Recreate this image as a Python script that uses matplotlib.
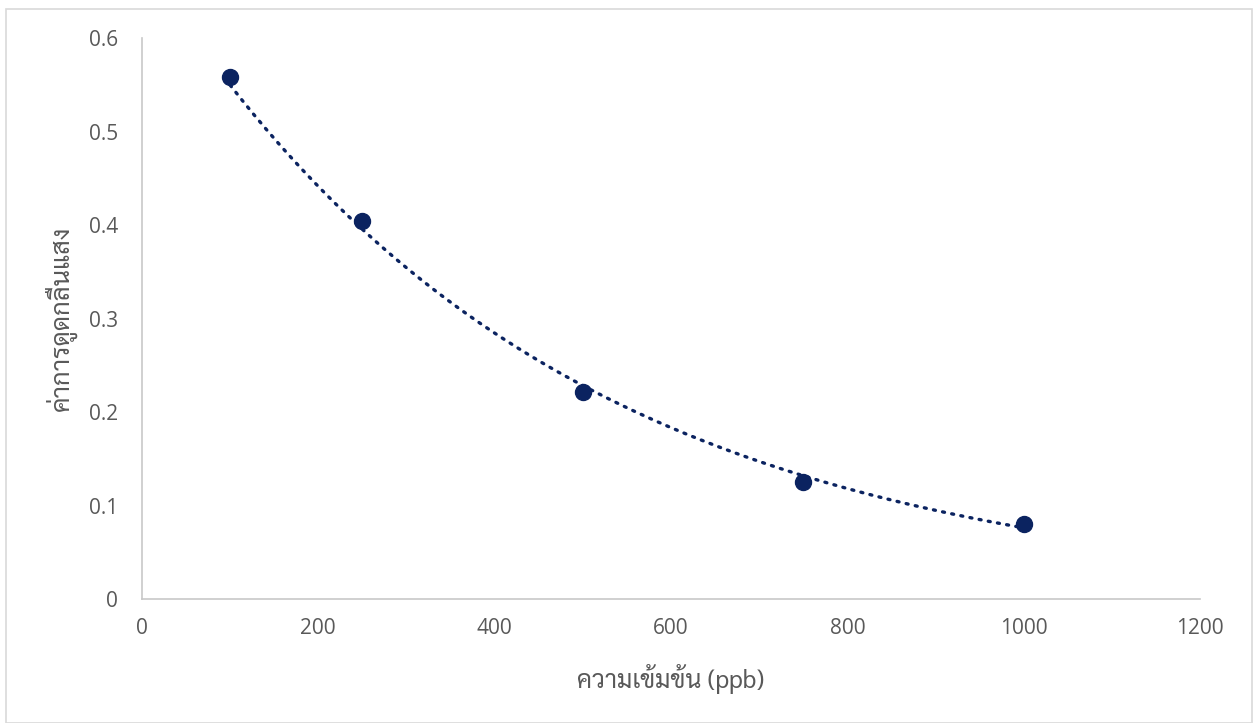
import os
import numpy as np
import matplotlib
matplotlib.use('Agg')
import matplotlib.pyplot as plt
from matplotlib import font_manager
from matplotlib.ft2font import FT2Font
from matplotlib.patches import Rectangle

# data
conc_ppb = [100, 250, 500, 750, 1000]
absorbance = [0.558, 0.404, 0.221, 0.125, 0.080]
x_ticks = [0, 200, 400, 600, 800, 1000, 1200]
y_ticks = [0, 0.1, 0.2, 0.3, 0.4, 0.5, 0.6]
y_tick_labels = ['0', '0.1', '0.2', '0.3', '0.4', '0.5', '0.6']

x_label = 'ความเข้มข้น (ppb)'
y_label = 'ค่าการดูดกลืนแสง'


def find_thai_font():
    base = '/usr/share/fonts/truetype/google-fonts/'
    for name in ['Sarabun-Light.ttf', 'Sarabun-Regular.ttf']:
        if os.path.exists(base + name):
            return base + name
    for path in font_manager.findSystemFonts():
        try:
            if FT2Font(path).get_char_index(ord('ค')) and 'Regular' in path:
                return path
        except Exception:
            continue
    return None


families = ['Open Sans', 'DejaVu Sans']
thai_path = find_thai_font()
if thai_path:
    font_manager.fontManager.addfont(thai_path)
    families = [font_manager.FontProperties(fname=thai_path).get_name()] + families
plt.rcParams['font.family'] = ['Open Sans', 'DejaVu Sans']

# exponential trendline like excel (fit on ln y)
b, ln_a = np.polyfit(conc_ppb, np.log(absorbance), 1)
x_fit = np.linspace(min(conc_ppb), max(conc_ppb), 200)
y_fit = np.exp(ln_a) * np.exp(b * x_fit)

fig = plt.figure(figsize=(12.55, 7.23), dpi=100)
ax = fig.add_axes([0.1131, 0.1715, 0.8431, 0.7759])

navy = '#0b2360'
ax.plot(x_fit, y_fit, linestyle=(0, (0.6, 2.2)), linewidth=2.4,
        color=navy, dash_capstyle='round', zorder=2)
ax.plot(conc_ppb, absorbance, 'o', markersize=11.5, color=navy,
        markeredgecolor=navy, zorder=3)

ax.set_xlim(0, 1200)
ax.set_ylim(0, 0.6)
ax.set_xticks(x_ticks)
ax.set_yticks(y_ticks)
ax.set_yticklabels(y_tick_labels)

for side in ['top', 'right']:
    ax.spines[side].set_visible(False)
for side in ['left', 'bottom']:
    ax.spines[side].set_color('#c8c8c8')
    ax.spines[side].set_linewidth(1.2)

ax.tick_params(axis='both', length=0, labelsize=15, labelcolor='#595959')
ax.tick_params(axis='y', pad=17)
ax.tick_params(axis='x', pad=14)

ax.set_xlabel(x_label, fontsize=18, color='#595959', family=families, labelpad=18)
ax.set_ylabel(y_label, fontsize=18.5, color='#595959', family=families, labelpad=9)

# chart area border
fig.patches.append(Rectangle((0.005, 0.0), 0.993, 0.987, transform=fig.transFigure,
                             fill=False, edgecolor='#d9d9d9', linewidth=1.2))

fig.savefig('out.png', dpi=100)
